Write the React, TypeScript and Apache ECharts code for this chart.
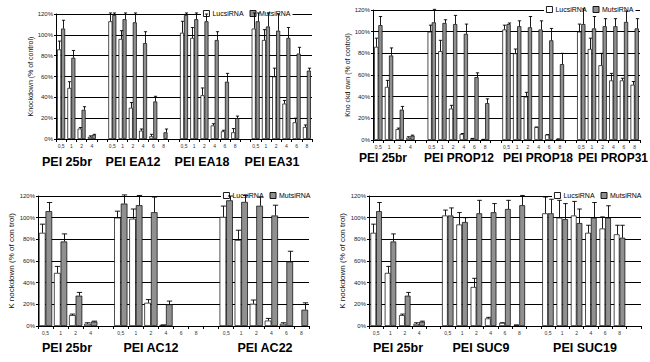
import React, { useEffect, useRef } from "react";
import * as echarts from "echarts";

// ---------- categories ----------
const DOSES_4 = ["0,5", "1", "2", "4"];
const DOSES_6 = ["0,5", "1", "2", "4", "6", "8"];
const Y_TICKS = [0, 20, 40, 60, 80, 100, 120];

// ---------- values (% of control) and upper error ----------
const PEI25BR_LUC = [86, 49, 10, 2];
const PEI25BR_LUC_ERR = [8, 6, 1, 1];
const PEI25BR_MUT = [106, 78, 28, 4];
const PEI25BR_MUT_ERR = [8, 7, 3, 0.5];

const EA12_LUC = [113, 96, 30, 8, 2.6, null];
const EA12_LUC_ERR = [8, 8, 5, 1.6, 1.9, null];
const EA12_MUT = [119, 115, 112, 92, 36, 6.4];
const EA12_MUT_ERR = [2, 6, 9, 11, 5, 3.2];

const EA18_LUC = [102, 97, 42, 13, 7.4, 6.4];
const EA18_LUC_ERR = [11, 10, 7, 1.7, 1, 3.6];
const EA18_MUT = [119, 115, 113, 95, 55, 20];
const EA18_MUT_ERR = [2, 6, 7, 8, 8, 2];

const EA31_LUC = [106, 95, 60, 34, 16, 11.5];
const EA31_LUC_ERR = [15, 10, 8, 3, 4, 2];
const EA31_MUT = [113, 108, 104, 97, 82, 65.6];
const EA31_MUT_ERR = [8, 13, 16, 10, 6, 2.4];

const PROP12_LUC = [100, 82, 29, 5.5, 1.5, 0.6];
const PROP12_LUC_ERR = [6, 10, 3, 0.5, 0, 0];
const PROP12_MUT = [108.6, 108, 107, 98, 58, 34];
const PROP12_MUT_ERR = [12, 3, 8, 9, 4, 4];

const PROP18_LUC = [102, 80, 40, 12, 5, 1];
const PROP18_LUC_ERR = [4, 4, 4, 0, 0, 0];
const PROP18_MUT = [107, 105, 104, 102, 92, 70];
const PROP18_MUT_ERR = [1, 5, 10, 8, 11, 10];

const PROP31_LUC = [100, 84, 69, 55, 55, 51];
const PROP31_LUC_ERR = [7, 10, 11, 6.5, 2, 3];
const PROP31_MUT = [107, 103, 105, 105, 109, 103];
const PROP31_MUT_ERR = [14, 11, 7, 7, 10, 9];

const AC12_LUC = [100, 99, 21.4, 1, null, null];
const AC12_LUC_ERR = [6, 9, 3, 0, null, null];
const AC12_MUT = [113, 111.5, 105, 20, null, null];
const AC12_MUT_ERR = [8, 9, 14, 3, null, null];

const AC22_LUC = [100.7, 79.4, 20.5, 5, 2, null];
const AC22_LUC_ERR = [10, 9, 3.5, 2, 1, null];
const AC22_MUT = [116, 114.5, 111, 102, 59.5, 15];
const AC22_MUT_ERR = [4, 6, 8, 9.5, 9.5, 6.4];

const SUC9_LUC = [102, 93.7, 36, 7, 3, 1];
const SUC9_LUC_ERR = [5, 11, 8, 1, 0, 0];
const SUC9_MUT = [102, 96, 104, 105, 108, 111.5];
const SUC9_MUT_ERR = [7, 4, 12, 8, 8, 9];

const SUC19_LUC = [104, 100, 102, 86, 90, 84.6];
const SUC19_LUC_ERR = [15, 16, 13, 7, 10.7, 8.4];
const SUC19_MUT = [104, 98.6, 95, 100, 100, 81.5];
const SUC19_MUT_ERR = [13, 14.4, 13, 14, 11, 11.5];

type Group = {
  label: string;
  doses: string[];
  luc: (number | null)[];
  lucErr: (number | null)[];
  mut: (number | null)[];
  mutErr: (number | null)[];
};

const G25: Group = { label: "PEI 25br", doses: DOSES_4, luc: PEI25BR_LUC, lucErr: PEI25BR_LUC_ERR, mut: PEI25BR_MUT, mutErr: PEI25BR_MUT_ERR };
const GEA12: Group = { label: "PEI EA12", doses: DOSES_6, luc: EA12_LUC, lucErr: EA12_LUC_ERR, mut: EA12_MUT, mutErr: EA12_MUT_ERR };
const GEA18: Group = { label: "PEI EA18", doses: DOSES_6, luc: EA18_LUC, lucErr: EA18_LUC_ERR, mut: EA18_MUT, mutErr: EA18_MUT_ERR };
const GEA31: Group = { label: "PEI EA31", doses: DOSES_6, luc: EA31_LUC, lucErr: EA31_LUC_ERR, mut: EA31_MUT, mutErr: EA31_MUT_ERR };
const GP12: Group = { label: "PEI PROP12", doses: DOSES_6, luc: PROP12_LUC, lucErr: PROP12_LUC_ERR, mut: PROP12_MUT, mutErr: PROP12_MUT_ERR };
const GP18: Group = { label: "PEI PROP18", doses: DOSES_6, luc: PROP18_LUC, lucErr: PROP18_LUC_ERR, mut: PROP18_MUT, mutErr: PROP18_MUT_ERR };
const GP31: Group = { label: "PEI PROP31", doses: DOSES_6, luc: PROP31_LUC, lucErr: PROP31_LUC_ERR, mut: PROP31_MUT, mutErr: PROP31_MUT_ERR };
const GAC12: Group = { label: "PEI AC12", doses: DOSES_6, luc: AC12_LUC, lucErr: AC12_LUC_ERR, mut: AC12_MUT, mutErr: AC12_MUT_ERR };
const GAC22: Group = { label: "PEI AC22", doses: DOSES_6, luc: AC22_LUC, lucErr: AC22_LUC_ERR, mut: AC22_MUT, mutErr: AC22_MUT_ERR };
const GSUC9: Group = { label: "PEI SUC9", doses: DOSES_6, luc: SUC9_LUC, lucErr: SUC9_LUC_ERR, mut: SUC9_MUT, mutErr: SUC9_MUT_ERR };
const GSUC19: Group = { label: "PEI SUC19", doses: DOSES_6, luc: SUC19_LUC, lucErr: SUC19_LUC_ERR, mut: SUC19_MUT, mutErr: SUC19_MUT_ERR };

const FONT = "'Liberation Sans', Arial, Helvetica, sans-serif";
const MUT_COLOR = "#909090";

type Panel = {
  grid: { left: number; top: number; width: number; height: number };
  groups: Group[];
  trailing: number;
  catGap: number;
  yName: string;
  nameGap: number;
  nameSize: number;
  legend: { left: number; top: number };
  labelPos: [number, number][];
  labelSize: number;
};

const PANELS: Panel[] = [
  {
    grid: { left: 56, top: 14, width: 256, height: 125 },
    groups: [G25, GEA12, GEA18, GEA31],
    trailing: 0,
    catGap: 22,
    yName: "Knockdown (% of control)",
    nameGap: 20,
    nameSize: 7,
    legend: { left: 201, top: 9 },
    labelPos: [[67, 162], [133, 162], [202, 162], [272, 162]],
    labelSize: 12.5,
  },
  {
    grid: { left: 373, top: 10, width: 267, height: 130 },
    groups: [G25, GP12, GP18, GP31],
    trailing: 0,
    catGap: 22,
    yName: "Kno ckd own (% of control)",
    nameGap: 22,
    nameSize: 7,
    legend: { left: 544, top: 5 },
    labelPos: [[383, 158], [459, 158], [538, 158], [613, 158]],
    labelSize: 12,
  },
  {
    grid: { left: 38, top: 196, width: 271, height: 130 },
    groups: [G25, GAC12, GAC22],
    trailing: 0,
    catGap: 12,
    yName: "K nockdown (% of con trol)",
    nameGap: 21,
    nameSize: 8,
    legend: { left: 221, top: 191 },
    labelPos: [[67, 348], [151, 348], [265, 348]],
    labelSize: 12.5,
  },
  {
    grid: { left: 369, top: 196, width: 272, height: 130 },
    groups: [G25, GSUC9, GSUC19],
    trailing: 1,
    catGap: 20,
    yName: "K nockdown (% of con trol)",
    nameGap: 19,
    nameSize: 8,
    legend: { left: 552, top: 191 },
    labelPos: [[398, 348], [481, 348], [585, 348]],
    labelSize: 12.5,
  },
];

function buildPanel(p: Panel) {
  const cats: string[] = [];
  const luc: (number | null)[] = [];
  const mut: (number | null)[] = [];
  const lucE: [number, number, number][] = [];
  const mutE: [number, number, number][] = [];
  p.groups.forEach((g, gi) => {
    if (gi > 0) {
      cats.push("");
      luc.push(null);
      mut.push(null);
    }
    g.doses.forEach((d, i) => {
      const idx = cats.length;
      cats.push(d);
      luc.push(g.luc[i]);
      mut.push(g.mut[i]);
      const lv = g.luc[i];
      const le = g.lucErr[i];
      if (lv != null && le != null) lucE.push([idx, lv, lv + le]);
      const mv = g.mut[i];
      const me = g.mutErr[i];
      if (mv != null && me != null) mutE.push([idx, mv, mv + me]);
    });
  });
  for (let t = 0; t < p.trailing; t++) {
    cats.push("");
    luc.push(null);
    mut.push(null);
  }
  return { cats, luc, mut, lucE, mutE };
}

function errRender(side: number, gapPct: number) {
  return (params: any, api: any) => {
    const idx = api.value(0);
    const v = api.value(1);
    const top = Math.min(api.value(2), 121);
    const p0 = api.coord([idx, v]);
    const p1 = api.coord([idx, top]);
    const cw = api.size([1, 0])[0];
    const bw = (cw * (1 - gapPct / 100)) / 2;
    const x = Math.round(p0[0] + (side * bw) / 2) + 0.5;
    const cap = Math.max(1.5, bw * 0.4);
    const style = { stroke: "#000", lineWidth: 0.9 };
    return {
      type: "group",
      children: [
        { type: "line", shape: { x1: x, y1: p0[1], x2: x, y2: p1[1] }, style },
        { type: "line", shape: { x1: x - cap, y1: p1[1], x2: x + cap, y2: p1[1] }, style },
      ],
    };
  };
}

export default function App() {
  const ref = useRef<HTMLDivElement>(null);
  useEffect(() => {
    if (!ref.current) return;
    const chart = echarts.init(ref.current, undefined, { renderer: "svg" });
    const grids: any[] = [];
    const xAxes: any[] = [];
    const yAxes: any[] = [];
    const legends: any[] = [];
    const series: any[] = [];
    const graphics: any[] = [];

    PANELS.forEach((p, i) => {
      const d = buildPanel(p);
      grids.push({ ...p.grid, containLabel: false });
      xAxes.push({
        type: "category",
        gridIndex: i,
        data: d.cats,
        axisLine: { lineStyle: { color: "#000", width: 1 } },
        axisTick: { show: true, interval: 0, length: 3, lineStyle: { color: "#000" } },
        axisLabel: { interval: 0, fontSize: 5, color: "#333", margin: 4, fontFamily: FONT },
      });
      yAxes.push({
        type: "value",
        gridIndex: i,
        min: Y_TICKS[0],
        max: Y_TICKS[Y_TICKS.length - 1],
        interval: 20,
        name: p.yName,
        nameLocation: "middle",
        nameGap: p.nameGap,
        nameTextStyle: { fontSize: p.nameSize, color: "#111", fontFamily: FONT },
        axisLine: { show: true, lineStyle: { color: "#000", width: 1 } },
        axisTick: { show: true, length: 2, lineStyle: { color: "#000" } },
        axisLabel: { fontSize: 6, color: "#222", margin: 3, formatter: "{value}%", fontFamily: FONT },
        splitLine: { show: true, lineStyle: { color: "#000", width: 1 } },
      });
      legends.push({
        left: p.legend.left,
        top: p.legend.top,
        orient: "horizontal",
        itemWidth: 6,
        itemHeight: 6,
        itemGap: 6,
        padding: [1, 2],
        backgroundColor: "#fff",
        selectedMode: false,
        textStyle: { fontSize: 7, color: "#000", fontFamily: FONT, padding: [0, 0, 0, -2] },
        data: [
          { name: "LucsiRNA", icon: "rect", itemStyle: { color: "#fff", borderColor: "#000", borderWidth: 0.9 } },
          { name: "MutsiRNA", icon: "rect", itemStyle: { color: MUT_COLOR, borderColor: "#000", borderWidth: 0.9 } },
        ],
      });
      series.push({
        type: "bar",
        name: "LucsiRNA",
        xAxisIndex: i,
        yAxisIndex: i,
        data: d.luc,
        barGap: "0%",
        barCategoryGap: p.catGap + "%",
        itemStyle: { color: "#fff", borderColor: "#000", borderWidth: 0.7 },
      });
      series.push({
        type: "bar",
        name: "MutsiRNA",
        xAxisIndex: i,
        yAxisIndex: i,
        data: d.mut,
        barGap: "0%",
        barCategoryGap: p.catGap + "%",
        itemStyle: { color: MUT_COLOR, borderColor: "#000", borderWidth: 0.7 },
      });
      series.push({
        type: "custom",
        name: "LucsiRNA",
        xAxisIndex: i,
        yAxisIndex: i,
        data: d.lucE,
        z: 5,
        renderItem: errRender(-1, p.catGap),
      });
      series.push({
        type: "custom",
        name: "MutsiRNA",
        xAxisIndex: i,
        yAxisIndex: i,
        data: d.mutE,
        z: 5,
        renderItem: errRender(1, p.catGap),
      });
      p.groups.forEach((g, gi) => {
        const [x, y] = p.labelPos[gi];
        graphics.push({
          type: "text",
          x,
          y,
          style: {
            text: g.label,
            fontSize: p.labelSize,
            fontWeight: "bold",
            fontFamily: FONT,
            fill: "#000",
            align: "center",
            verticalAlign: "middle",
          },
        });
      });
    });

    chart.setOption({
      animation: false,
      backgroundColor: "#fff",
      grid: grids,
      xAxis: xAxes,
      yAxis: yAxes,
      legend: legends,
      series,
      graphic: graphics,
    });
    return () => chart.dispose();
  }, []);
  return (
    <div
      ref={ref}
      style={{ position: "fixed", left: 0, top: 0, width: 650, height: 362, background: "#fff" }}
    />
  );
}
